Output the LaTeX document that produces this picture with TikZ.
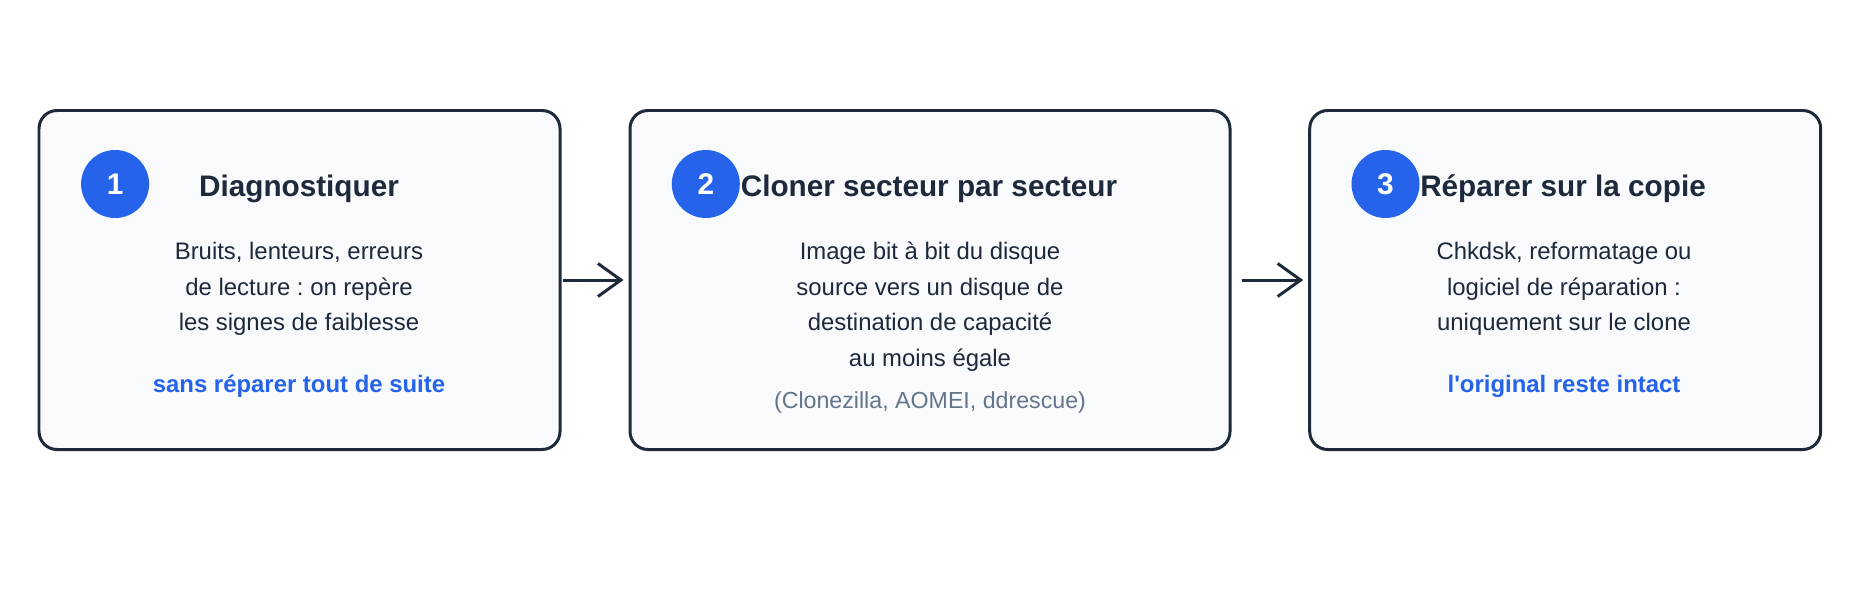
\documentclass[tikz,border=0pt]{standalone}
\usepackage{fontspec}
\setmainfont{Liberation Sans}
\usetikzlibrary{positioning,arrows.meta}
\definecolor{ink}{HTML}{1E293B}
\definecolor{panel}{HTML}{F8FAFC}
\definecolor{accent}{HTML}{2563EB}
\definecolor{muted}{HTML}{64748B}
\frenchspacing

\begin{document}
\begin{tikzpicture}[
  stepbox/.style={draw=ink, fill=panel, line width=0.85pt, rounded corners=0.18cm, minimum height=3.39cm},
  badge/.style={circle, fill=accent, minimum size=0.68cm, inner sep=0pt, text=white, font=\fontsize{8.5}{10}\selectfont\bfseries},
  title/.style={text=ink, font=\fontsize{8.45}{10}\selectfont\bfseries, anchor=base},
  body/.style={text=ink, font=\fontsize{6.8}{10.1}\selectfont, align=center, anchor=base},
  note/.style={text=accent, font=\fontsize{6.8}{10.1}\selectfont\bfseries, anchor=base},
  tools/.style={text=muted, font=\fontsize{6.6}{10}\selectfont, anchor=base},
  flow/.style={draw=ink, line width=0.85pt, -{Straight Barb[length=0.23cm, width=0.33cm]}}
]
\useasboundingbox (0,0) rectangle (18.6,-6);

% the three steps
\node[stepbox, minimum width=5.21cm] (box1) at (2.995,-2.80) {};
\node[stepbox, minimum width=6.00cm] (box2) at (9.300,-2.80) {};
\node[stepbox, minimum width=5.11cm] (box3) at (15.652,-2.80) {};

\node[badge] (num1) at (1.151,-1.84) {1};
\node[badge] (num2) at (7.058,-1.84) {2};
\node[badge] (num3) at (13.855,-1.84) {3};

\node[title] (head1) at (2.99,-1.965) {Diagnostiquer};
\node[title] (head2) at (9.29,-1.965) {Cloner secteur par secteur};
\node[title] (head3) at (15.63,-1.965) {Réparer sur la copie};

% base of a multi-line node = its last line
\node[body] (text1) at (2.99,-3.307) {Bruits, lenteurs, erreurs\\de lecture : on repère\\les signes de faiblesse};
\node[body] (text2) at (9.30,-3.663) {Image bit à bit du disque\\source vers un disque de\\destination de capacité\\au moins égale};
\node[body] (text3) at (15.64,-3.307) {Chkdsk, reformatage ou\\logiciel de réparation :\\uniquement sur le clone};

\node[note] (hint1) at (2.99,-3.92) {sans réparer tout de suite};
\node[tools] (hint2) at (9.30,-4.08) {(Clonezilla, AOMEI, ddrescue)};
\node[note] (hint3) at (15.64,-3.92) {l\textquotesingle original reste intact};

% arrows between steps
\draw[flow, shorten <=0.01cm, shorten >=0.05cm] (box1) -- (box2);
\draw[flow, shorten <=0.10cm, shorten >=0.05cm] (box2) -- (box3);
\end{tikzpicture}
\end{document}
